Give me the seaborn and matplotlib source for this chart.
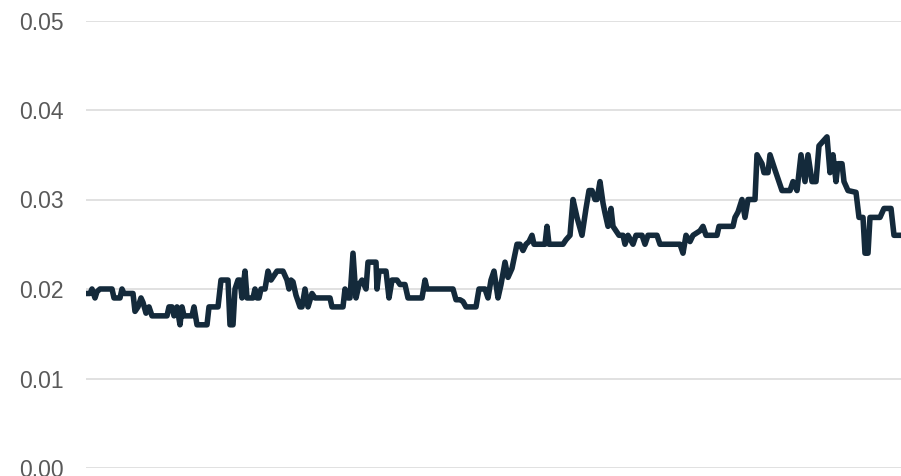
import matplotlib
matplotlib.use("Agg")
import matplotlib.pyplot as plt
import seaborn as sns
import pandas as pd

# observation index (sparse breakpoints of the series) and rate values
day = [86, 90, 92, 95, 97, 100, 112, 114, 120, 122, 124, 133, 135, 138, 141, 143,
       146, 149, 152, 167, 169, 172, 174, 177, 180, 182, 184, 192, 194, 197, 207,
       209, 218, 221, 228, 230, 233, 235, 238, 240, 242, 245, 247, 253, 255, 257,
       259, 261, 265, 268, 271, 274, 277, 283, 287, 289, 291, 293, 296, 300, 302,
       305, 308, 312, 315, 330, 332, 343, 345, 348, 350, 353, 356, 359, 362, 364,
       366, 368, 376, 377, 379, 386, 389, 392, 397, 400, 405, 408, 422, 425, 427,
       453, 456, 460, 463, 466, 476, 479, 485, 488, 491, 494, 498, 501, 505, 508,
       512, 517, 520, 523, 526, 529, 532, 534, 545, 547, 549, 563, 566, 570, 573,
       577, 582, 586, 589, 592, 595, 597, 600, 603, 605, 608, 611, 613, 616, 619,
       623, 625, 628, 633, 636, 642, 645, 648, 657, 660, 680, 683, 686, 690, 693,
       700, 703, 706, 717, 719, 733, 735, 738, 742, 745, 748, 755, 757, 762, 764,
       768, 770, 775, 779, 782, 790, 793, 797, 801, 805, 808, 812, 816, 819, 823,
       827, 830, 833, 836, 838, 842, 844, 848, 856, 859, 863, 865, 868, 870, 880,
       884, 891, 894, 901]
rate = [0.0195, 0.0195, 0.0200, 0.0190, 0.0197, 0.0200, 0.0200, 0.0190, 0.0190,
        0.0200, 0.0195, 0.0195, 0.0175, 0.0180, 0.0190, 0.0185, 0.0173, 0.0180,
        0.0170, 0.0170, 0.0180, 0.0180, 0.0170, 0.0180, 0.0160, 0.0180, 0.0170,
        0.0170, 0.0180, 0.0160, 0.0160, 0.0180, 0.0180, 0.0210, 0.0210, 0.0160,
        0.0160, 0.0200, 0.0210, 0.0210, 0.0190, 0.0220, 0.0190, 0.0190, 0.0200,
        0.0190, 0.0190, 0.0200, 0.0200, 0.0220, 0.0210, 0.0215, 0.0220, 0.0220,
        0.0210, 0.0200, 0.0210, 0.0208, 0.0193, 0.0180, 0.0180, 0.0200, 0.0180,
        0.0195, 0.0190, 0.0190, 0.0180, 0.0180, 0.0200, 0.0190, 0.0190, 0.0240,
        0.0190, 0.0205, 0.0210, 0.0205, 0.0200, 0.0230, 0.0230, 0.0200, 0.0220,
        0.0220, 0.0190, 0.0210, 0.0210, 0.0205, 0.0205, 0.0190, 0.0190, 0.0210,
        0.0200, 0.0200, 0.0188, 0.0188, 0.0186, 0.0180, 0.0180, 0.0200, 0.0200,
        0.0190, 0.0210, 0.0220, 0.0190, 0.0205, 0.0230, 0.0213, 0.0223, 0.0250,
        0.0250, 0.0243, 0.0250, 0.0253, 0.0260, 0.0250, 0.0250, 0.0270, 0.0250,
        0.0250, 0.0255, 0.0260, 0.0300, 0.0280, 0.0260, 0.0290, 0.0310, 0.0310,
        0.0300, 0.0300, 0.0320, 0.0296, 0.0285, 0.0270, 0.0290, 0.0270, 0.0265,
        0.0260, 0.0260, 0.0250, 0.0260, 0.0250, 0.0260, 0.0260, 0.0250, 0.0260,
        0.0260, 0.0250, 0.0250, 0.0240, 0.0260, 0.0253, 0.0260, 0.0265, 0.0270,
        0.0260, 0.0260, 0.0270, 0.0270, 0.0280, 0.0286, 0.0300, 0.0280, 0.0300,
        0.0300, 0.0350, 0.0340, 0.0330, 0.0330, 0.0350, 0.0333, 0.0320, 0.0310,
        0.0310, 0.0320, 0.0310, 0.0350, 0.0320, 0.0350, 0.0320, 0.0320, 0.0360,
        0.0365, 0.0370, 0.0330, 0.0350, 0.0320, 0.0340, 0.0340, 0.0320, 0.0310,
        0.0308, 0.0280, 0.0280, 0.0240, 0.0240, 0.0280, 0.0280, 0.0290, 0.0290,
        0.0260, 0.0260]

df = pd.DataFrame({"day": day, "rate": rate})

sns.set_style("white")
plt.rcParams['font.family'] = ['Liberation Sans', 'DejaVu Sans']

fig = plt.figure(figsize=(9.01, 4.76), dpi=100)
ax = fig.add_axes([86 / 901, 8 / 476, 1 - 86 / 901, (468 - 20.5) / 476])

sns.lineplot(data=df, x="day", y="rate", ax=ax, color="#142a3b", linewidth=4.0)

ax.set_xlim(86, 901)
ax.set_ylim(0, 0.05)
ax.set_yticks([0.0, 0.01, 0.02, 0.03, 0.04, 0.05])
ax.set_yticklabels(["0.00", "0.01", "0.02", "0.03", "0.04", "0.05"])
ax.set_xticks([])
ax.grid(axis="y", color="#d9d9d9", linewidth=1.1)
ax.set_axisbelow(True)
ax.tick_params(axis="y", length=0, pad=16, labelsize=16.5, labelcolor="#595959")
for s in ax.spines.values():
    s.set_visible(False)
ax.set_xlabel("")
ax.set_ylabel("")

fig.savefig("out.png", dpi=100)
